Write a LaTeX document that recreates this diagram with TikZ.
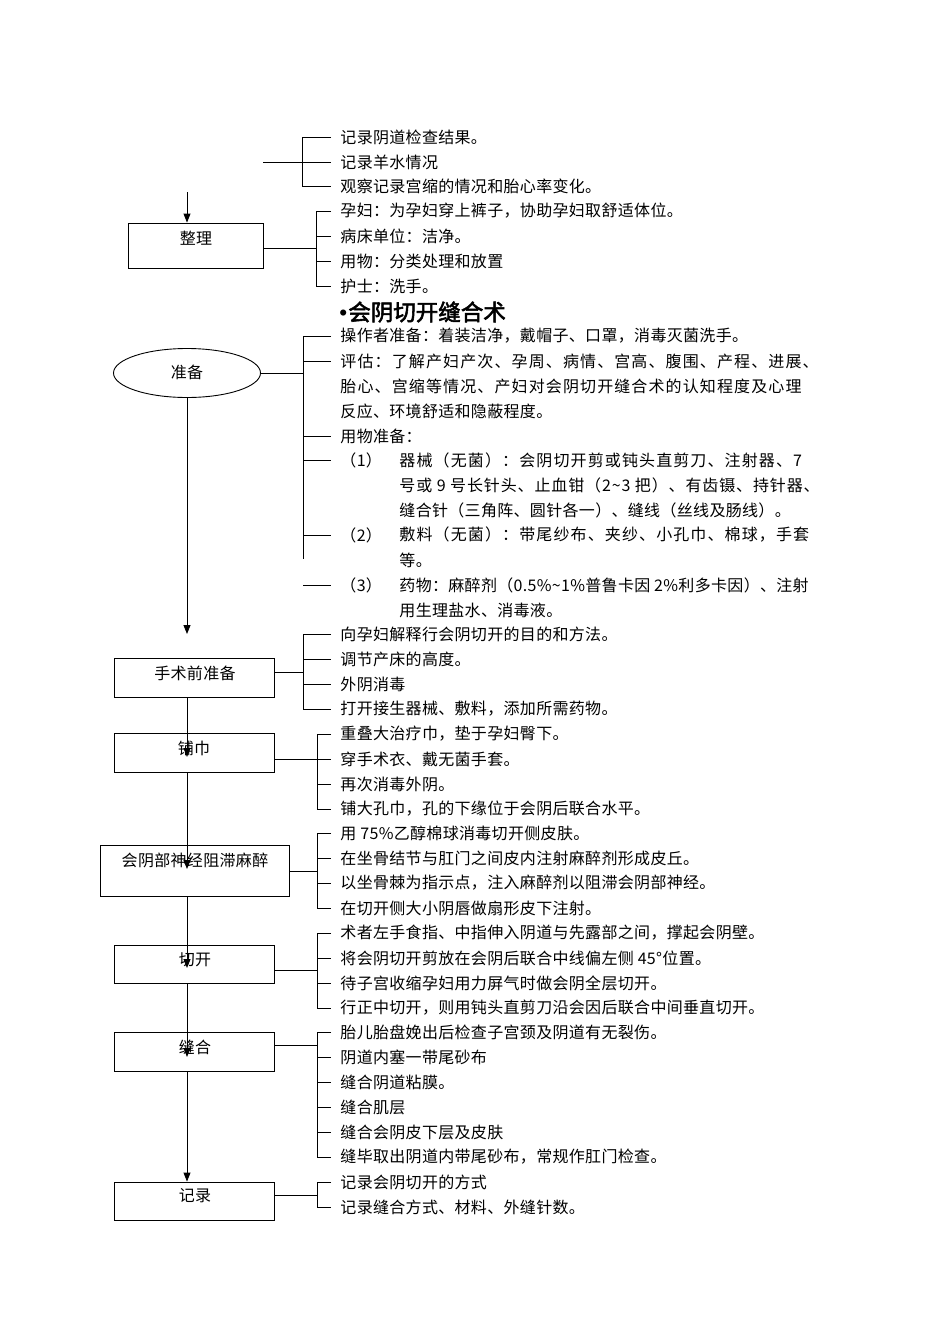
\documentclass[tikz,border=0pt]{standalone}
\usepackage{fontspec}
\setmainfont{Noto Sans CJK SC}[LetterSpace=2]
\newfontfamily\titlefont{Noto Sans CJK SC}[FakeBold=2.5]
\newfontfamily\bulletfont{Liberation Sans}
\usetikzlibrary{arrows.meta,shapes.geometric}
\newcommand{\widetxt}{\addfontfeatures{LetterSpace=7}}
\newcommand{\midtxt}{\addfontfeatures{LetterSpace=5.5}}
\begin{document}
\begin{tikzpicture}[x=1pt,y=-1pt,line width=0.9pt,
  txt/.style={anchor=west,inner sep=0pt,font=\fontsize{16}{18}\selectfont},
  lbl/.style={inner sep=0pt,font=\fontsize{16}{18}\selectfont},
  box/.style={draw,rectangle,inner sep=0pt},
  arr/.style={-{Triangle[length=9pt,width=7pt]}}]
\useasboundingbox (0,0) rectangle (950,1344);
\fill[white] (0,0) rectangle (950,1344);

% ---------- top section ----------
\node[txt] (t1) at (340,137) {记录阴道检查结果。};
\node[txt] (t2) at (340,162) {记录羊水情况};
\node[txt] (t3) at (340,186) {观察记录宫缩的情况和胎心率变化。};
\node[txt] (t4) at (340,211) {孕妇：为孕妇穿上裤子，协助孕妇取舒适体位。};
\node[txt] (t5) at (340,236) {病床单位：洁净。};
\node[txt] (t6) at (340,261) {用物：分类处理和放置};
\node[txt] (t7) at (340,286) {护士：洗手。};
\node[anchor=west,inner sep=0pt,font={\titlefont\fontsize{22.5}{26}\selectfont}] (title) at (339,312) {{\bulletfont •}\hspace{1pt}会阴切开缝合术};

\node[box,minimum width=135pt,minimum height=45pt] (zl) at (195.5,245.5) {};
\node[lbl] (zlt) at (196,238) {整理};

\coordinate (s1) at (263,162);
\coordinate (v1) at (302,162);
\draw (s1) -- (v1);
\draw ([xshift=-9pt]t1.west) -- (t1.west -| v1) -- (t3.west -| v1) -- ([xshift=-9pt]t3.west);
\draw (t2.west -| v1) -- ([xshift=-9pt]t2.west);

\coordinate (v2) at (316,248);
\draw (zl.east |- v2) -- (v2);
\draw ([xshift=-9pt]t4.west) -- (t4.west -| v2) -- (t7.west -| v2) -- ([xshift=-9pt]t7.west);
\draw (t5.west -| v2) -- ([xshift=-9pt]t5.west);
\draw (t6.west -| v2) -- ([xshift=-9pt]t6.west);

\coordinate (a0) at (187,192);
\draw[arr] (a0) -- (a0 |- zl.north);

% ---------- preparation ----------
\node[draw,ellipse,minimum width=147pt,minimum height=49pt,inner sep=0pt] (zb) at (187,373) {};
\node[lbl] (zbt) at (187,372) {准备};

\node[txt] (u1) at (340,336) {操作者准备：着装洁净，戴帽子、口罩，消毒灭菌洗手。};
\node[txt] (u2) at (340,361) {\widetxt 评估：了解产妇产次、孕周、病情、宫高、腹围、产程、进展、};
\node[txt] (u3) at (340,386) {\widetxt 胎心、宫缩等情况、产妇对会阴切开缝合术的认知程度及心理};
\node[txt] (u4) at (340,411) {反应、环境舒适和隐蔽程度。};
\node[txt] (u5) at (340,436) {用物准备：};
\node[txt] (n1) at (340,460) {（1）};
\node[txt] (u6) at (399,460) {\widetxt 器械（无菌）：会阴切开剪或钝头直剪刀、注射器、7};
\node[txt] (u7) at (399,485) {\midtxt 号或 9 号长针头、止血钳（2\textasciitilde3 把）、有齿镊、持针器、};
\node[txt] (u8) at (399,510) {缝合针（三角阵、圆针各一）、缝线（丝线及肠线）。};
\node[txt] (n2) at (340,535) {（2）};
\node[txt] (u9) at (399,535) {\widetxt 敷料（无菌）：带尾纱布、夹纱、小孔巾、棉球，手套};
\node[txt] (u10) at (399,560) {等。};
\node[txt] (n3) at (340,585) {（3）};
\node[txt] (u11) at (399,585) {药物：麻醉剂（0.5\%\textasciitilde1\%普鲁卡因 2\%利多卡因）、注射};
\node[txt] (u12) at (399,610) {用生理盐水、消毒液。};

\coordinate (v3) at (303,372);
\draw (zb.east) -- (zb.east -| v3);
\draw ([xshift=-9pt]u1.west) -- (u1.west -| v3) -- (303,559);
\draw (u2.west -| v3) -- ([xshift=-9pt]u2.west);
\draw (u5.west -| v3) -- ([xshift=-9pt]u5.west);
\draw (n1.west -| v3) -- ([xshift=-9pt]n1.west);
\draw (n2.west -| v3) -- ([xshift=-9pt]n2.west);
\draw (n3.west -| v3) -- ([xshift=-9pt]n3.west);

\coordinate (p1) at (187,634);
\draw[arr] (zb.south) -- (p1);

% ---------- boxes ----------
\node[box,minimum width=160pt,minimum height=39pt] (ss) at (194,677.5) {};
\node[lbl] (sst) at (195,673) {手术前准备};
\node[box,minimum width=160pt,minimum height=39pt] (pj) at (194,752.5) {};
\node[lbl] (pjt) at (194,748) {铺巾};
\node[box,minimum width=189pt,minimum height=51pt] (mz) at (194.5,870.5) {};
\node[lbl] (mzt) at (195,860) {会阴部神经阻滞麻醉};
\node[box,minimum width=160pt,minimum height=38pt] (qk) at (194,964) {};
\node[lbl] (qkt) at (195,960) {切开};
\node[box,minimum width=160pt,minimum height=39pt] (fh) at (194,1051.5) {};
\node[lbl] (fht) at (195,1047) {缝合};
\node[box,minimum width=160pt,minimum height=38pt] (jl) at (194,1201) {};
\node[lbl] (jlt) at (195,1196) {记录};

% 手术前准备
\node[txt] (w1) at (340,634) {向孕妇解释行会阴切开的目的和方法。};
\node[txt] (w2) at (340,659) {调节产床的高度。};
\node[txt] (w3) at (340,684) {外阴消毒};
\node[txt] (w4) at (340,709) {打开接生器械、敷料，添加所需药物。};
\coordinate (v4) at (303,672);
\draw (ss.east |- v4) -- (v4);
\draw ([xshift=-9pt]w1.west) -- (w1.west -| v4) -- (w4.west -| v4) -- ([xshift=-9pt]w4.west);
\draw (w2.west -| v4) -- ([xshift=-9pt]w2.west);
\draw (w3.west -| v4) -- ([xshift=-9pt]w3.west);

% 铺巾
\node[txt] (x1) at (340,734) {重叠大治疗巾，垫于孕妇臀下。};
\node[txt] (x2) at (340,759) {穿手术衣、戴无菌手套。};
\node[txt] (x3) at (340,784) {再次消毒外阴。};
\node[txt] (x4) at (340,809) {铺大孔巾，孔的下缘位于会阴后联合水平。};
\coordinate (v5) at (317,759);
\draw (pj.east |- v5) -- (v5);
\draw ([xshift=-9pt]x1.west) -- (x1.west -| v5) -- (x4.west -| v5) -- ([xshift=-9pt]x4.west);
\draw (x2.west -| v5) -- ([xshift=-9pt]x2.west);
\draw (x3.west -| v5) -- ([xshift=-9pt]x3.west);

% 会阴部神经阻滞麻醉
\node[txt] (y1) at (340,833) {用 75\%乙醇棉球消毒切开侧皮肤。};
\node[txt] (y2) at (340,858) {在坐骨结节与肛门之间皮内注射麻醉剂形成皮丘。};
\node[txt] (y3) at (340,883) {以坐骨棘为指示点，注入麻醉剂以阻滞会阴部神经。};
\node[txt] (y4) at (340,908) {在切开侧大小阴唇做扇形皮下注射。};
\coordinate (v6) at (317,871);
\draw (mz.east |- v6) -- (v6);
\draw ([xshift=-9pt]y1.west) -- (y1.west -| v6) -- (y4.west -| v6) -- ([xshift=-9pt]y4.west);
\draw (y2.west -| v6) -- ([xshift=-9pt]y2.west);
\draw (y3.west -| v6) -- ([xshift=-9pt]y3.west);

% 切开
\node[txt] (z1) at (340,933) {术者左手食指、中指伸入阴道与先露部之间，撑起会阴壁。};
\node[txt] (z2) at (340,958) {将会阴切开剪放在会阴后联合中线偏左侧 45°位置。};
\node[txt] (z3) at (340,983) {待子宫收缩孕妇用力屏气时做会阴全层切开。};
\node[txt] (z4) at (340,1008) {行正中切开，则用钝头直剪刀沿会因后联合中间垂直切开。};
\coordinate (v7) at (317,970);
\draw (qk.east |- v7) -- (v7);
\draw ([xshift=-9pt]z1.west) -- (z1.west -| v7) -- (z4.west -| v7) -- ([xshift=-9pt]z4.west);
\draw (z2.west -| v7) -- ([xshift=-9pt]z2.west);
\draw (z3.west -| v7) -- ([xshift=-9pt]z3.west);

% 缝合
\node[txt] (f1) at (340,1032) {胎儿胎盘娩出后检查子宫颈及阴道有无裂伤。};
\node[txt] (f2) at (340,1057) {阴道内塞一带尾砂布};
\node[txt] (f3) at (340,1082) {缝合阴道粘膜。};
\node[txt] (f4) at (340,1107) {缝合肌层};
\node[txt] (f5) at (340,1132) {缝合会阴皮下层及皮肤};
\node[txt] (f6) at (340,1157) {缝毕取出阴道内带尾砂布，常规作肛门检查。};
\coordinate (v8) at (317,1045);
\draw (fh.east |- v8) -- (v8);
\draw ([xshift=-9pt]f1.west) -- (f1.west -| v8) -- (f6.west -| v8) -- ([xshift=-9pt]f6.west);
\foreach \n in {f2,f3,f4,f5} \draw (\n.west -| v8) -- ([xshift=-9pt]\n.west);

% 记录
\node[txt] (g1) at (340,1182) {记录会阴切开的方式};
\node[txt] (g2) at (340,1207) {记录缝合方式、材料、外缝针数。};
\coordinate (v9) at (317,1195);
\draw (jl.east |- v9) -- (v9);
\draw ([xshift=-9pt]g1.west) -- (g1.west -| v9) -- (g2.west -| v9) -- ([xshift=-9pt]g2.west);

% ---------- vertical flow arrows ----------
\coordinate (p2) at (187,757);
\coordinate (p3) at (187,869);
\coordinate (p4) at (187,968);
\coordinate (p5) at (187,1057);
\draw[arr] (ss.south -| p1) -- (p2);
\draw[arr] (pj.south -| p1) -- (p3);
\draw[arr] (mz.south -| p1) -- (p4);
\draw[arr] (qk.south -| p1) -- (p5);
\draw[arr] (fh.south -| p1) -- (jl.north -| p1);
\end{tikzpicture}
\end{document}
